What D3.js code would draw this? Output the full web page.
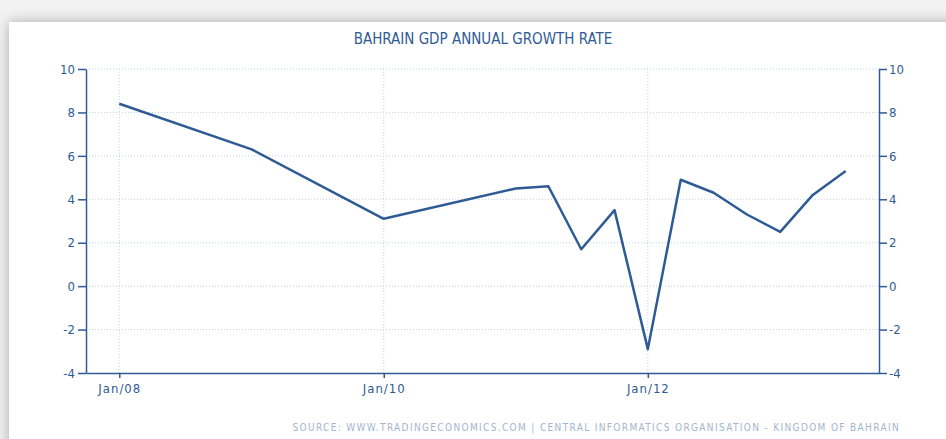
<!DOCTYPE html>
<html>
<head>
<meta charset="utf-8">
<script src="https://cdn.jsdelivr.net/npm/d3@7"></script>
<style>
  body { margin: 0; background: #f2f2f2; }
  svg text { font-family: "DejaVu Sans Condensed", "DejaVu Sans", sans-serif; }
</style>
</head>
<body>
<svg id="chart" width="946" height="439"></svg>
<script>
// quarterly readings (annual points before 2011)
const dates = ["2008-01-01", "2009-01-01", "2010-01-01", "2011-01-01", "2011-04-01",
  "2011-07-01", "2011-10-01", "2012-01-01", "2012-04-01", "2012-07-01",
  "2012-10-01", "2013-01-01", "2013-04-01", "2013-07-01"];
const values = [8.4, 6.3, 3.1, 4.5, 4.6, 1.7, 3.5, -2.9, 4.9, 4.3, 3.3, 2.5, 4.2, 5.3];
const xTicks = ["2008-01-01", "2010-01-01", "2012-01-01"];
const yTicks = [-4, -2, 0, 2, 4, 6, 8, 10];

const parse = d3.timeParse("%Y-%m-%d");
const data = dates.map((d, i) => ({ date: parse(d), value: values[i] }));

const svg = d3.select("#chart");
const blue = "#2f5b95";
const margin = { top: 69, right: 67, bottom: 66, left: 86 };
const width = 946 - margin.left - margin.right;
const height = 439 - margin.top - margin.bottom;

// card background with soft shadow
const defs = svg.append("defs");
const f = defs.append("filter").attr("id", "shadow")
  .attr("x", "-5%").attr("y", "-10%").attr("width", "110%").attr("height", "120%");
f.append("feGaussianBlur").attr("in", "SourceAlpha").attr("stdDeviation", 7);
f.append("feComponentTransfer").append("feFuncA").attr("type", "linear").attr("slope", 0.3);
const m = f.append("feMerge");
m.append("feMergeNode");
m.append("feMergeNode").attr("in", "SourceGraphic");

svg.append("rect")
  .attr("x", 9).attr("y", 22).attr("width", 960).attr("height", 440)
  .attr("fill", "#fff").attr("filter", "url(#shadow)");

svg.append("text")
  .attr("x", 483).attr("y", 44)
  .attr("text-anchor", "middle")
  .attr("fill", blue)
  .attr("font-size", 15)
  .text("BAHRAIN GDP ANNUAL GROWTH RATE");

const g = svg.append("g").attr("transform", `translate(${margin.left},${margin.top})`);

const x = d3.scaleTime()
  .domain([parse("2007-10-01"), parse("2013-10-01")])
  .range([0, width]);
const y = d3.scaleLinear().domain([-4, 10]).range([height, 0]);

// grid
g.selectAll(".hgrid").data(yTicks.filter(d => d > -4)).enter().append("line")
  .attr("x1", 0).attr("x2", width)
  .attr("y1", d => y(d)).attr("y2", d => y(d))
  .attr("stroke", "#bfd0e6").attr("stroke-dasharray", "1,2");
g.selectAll(".vgrid").data(xTicks.map(parse)).enter().append("line")
  .attr("x1", d => x(d)).attr("x2", d => x(d))
  .attr("y1", 0).attr("y2", height)
  .attr("stroke", "#bfd0e6").attr("stroke-dasharray", "1,2");

function styleAxis(sel) {
  sel.select(".domain").attr("stroke", blue).attr("stroke-width", 1.5);
  sel.selectAll(".tick line").attr("stroke", blue).attr("stroke-width", 1.5);
  sel.selectAll(".tick text").attr("fill", blue).attr("font-size", 13)
    .attr("font-family", "\"DejaVu Sans Condensed\", sans-serif");
}

const num = d => String(d);

g.append("g")
  .call(d3.axisLeft(y).tickValues(yTicks).tickFormat(num).tickSize(8).tickSizeOuter(0).tickPadding(3))
  .call(styleAxis);

g.append("g")
  .attr("transform", `translate(${width},0)`)
  .call(d3.axisRight(y).tickValues(yTicks).tickFormat(num).tickSize(8).tickSizeOuter(0).tickPadding(2))
  .call(styleAxis);

g.append("g")
  .attr("transform", `translate(0,${height})`)
  .call(d3.axisBottom(x).tickValues(xTicks.map(parse)).tickFormat(d3.timeFormat("%b/%y"))
    .tickSize(5).tickSizeOuter(0).tickPadding(6))
  .call(styleAxis)
  .selectAll(".tick text").attr("letter-spacing", 1);

const line = d3.line().x(d => x(d.date)).y(d => y(d.value));
g.append("path")
  .datum(data)
  .attr("fill", "none")
  .attr("stroke", blue)
  .attr("stroke-width", 2.5)
  .attr("stroke-linejoin", "round")
  .attr("d", line);

svg.append("text")
  .attr("x", 900).attr("y", 431)
  .attr("text-anchor", "end")
  .attr("fill", "#a3b5cf")
  .attr("font-size", 10)
  .attr("letter-spacing", 1.35)
  .text("SOURCE: WWW.TRADINGECONOMICS.COM  |  CENTRAL INFORMATICS ORGANISATION - KINGDOM OF BAHRAIN");
</script>
</body>
</html>
